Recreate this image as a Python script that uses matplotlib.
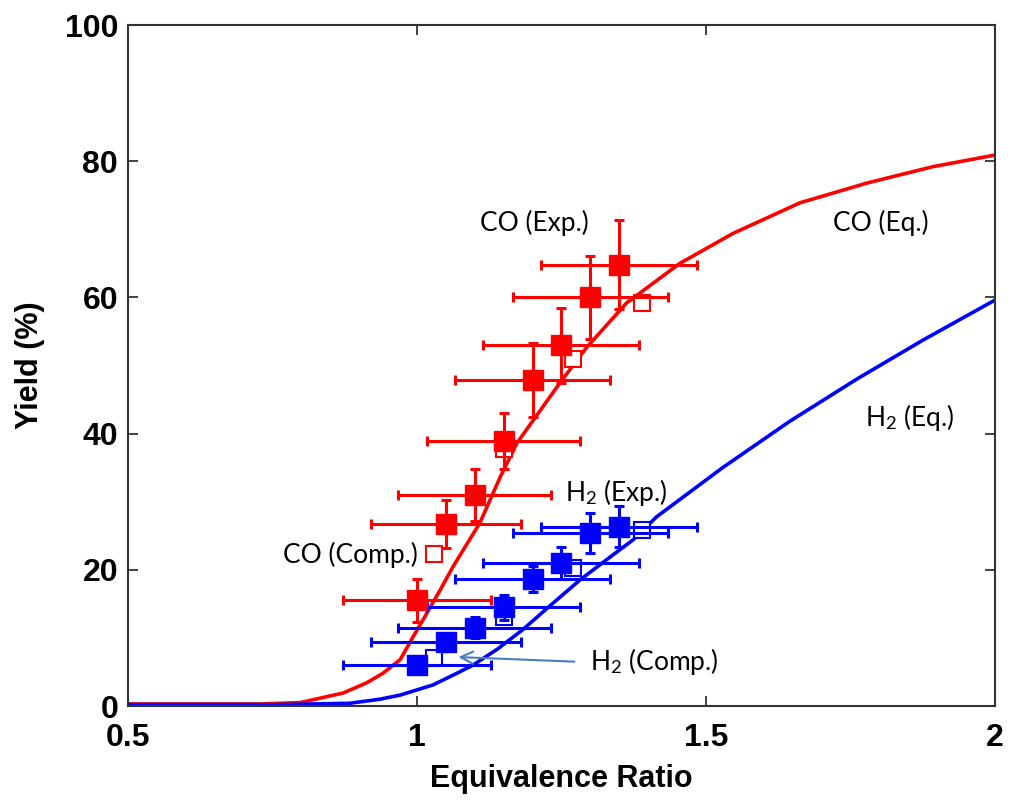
import matplotlib

matplotlib.use("Agg")
import matplotlib.pyplot as plt

plt.rcParams["mathtext.fontset"] = "custom"
plt.rcParams["mathtext.rm"] = "Lato"
plt.rcParams["mathtext.it"] = "Lato:italic"

RED = "#ff0000"
BLUE = "#0000ff"
ARROW = "#4a7ebb"

# equilibrium curves
co_eq_x = [0.5, 0.73, 0.798, 0.872, 0.913, 0.941, 0.971, 0.993, 1.017, 1.040, 1.062, 1.109,
           1.144, 1.173, 1.247, 1.294, 1.363, 1.455, 1.547, 1.663, 1.779, 1.893, 2.0]
co_eq_y = [0.3, 0.3, 0.5, 1.9, 3.4, 4.8, 6.8, 10.1, 13.6, 17.0, 20.4, 26.9,
           33.6, 38.6, 47.4, 52.7, 59.2, 65.0, 69.4, 73.9, 76.8, 79.2, 80.9]
h2_eq_x = [0.5, 0.76, 0.884, 0.936, 0.971, 1.028, 1.069, 1.097, 1.14, 1.183, 1.23,
           1.282, 1.33, 1.374, 1.415, 1.529, 1.645, 1.761, 1.875, 2.0]
h2_eq_y = [0.2, 0.2, 0.4, 1.0, 1.6, 3.1, 4.8, 6.0, 8.4, 11.2, 14.7,
           18.5, 21.6, 24.4, 27.8, 35.0, 41.8, 48.0, 53.7, 59.6]

# experiments
exp_x = [1.0, 1.05, 1.10, 1.15, 1.20, 1.25, 1.30, 1.35]
exp_xerr = [0.128, 0.13, 0.132, 0.133, 0.134, 0.135, 0.134, 0.135]
co_exp_y = [15.5, 26.7, 31.0, 38.9, 47.9, 53.0, 60.0, 64.8]
co_exp_err = [3.2, 3.5, 3.8, 4.1, 5.4, 5.5, 6.1, 6.5]
h2_exp_y = [6.0, 9.4, 11.5, 14.5, 18.6, 21.0, 25.4, 26.3]
h2_exp_err = [1.0, 1.3, 1.5, 1.8, 1.9, 2.3, 3.0, 3.0]

# computations
comp_x = [1.03, 1.15, 1.27, 1.39]
co_comp_y = [22.3, 37.8, 51.0, 59.2]
h2_comp_y = [7.0, 13.1, 20.3, 25.9]

fig = plt.figure(figsize=(10.1, 8.02), dpi=100)
ax = fig.add_axes([0.1267, 0.1197, 0.8583, 0.8491])

ax.plot(co_eq_x, co_eq_y, color=RED, lw=2.6, zorder=2)
ax.plot(h2_eq_x, h2_eq_y, color=BLUE, lw=2.6, zorder=2)

ax.plot(comp_x, co_comp_y, "s", ms=11, mfc="white", mec=RED, mew=1.5, zorder=3)
ax.plot(comp_x, h2_comp_y, "s", ms=11, mfc="white", mec=BLUE, mew=1.5, zorder=3)

for y, yerr, c in [(co_exp_y, co_exp_err, RED), (h2_exp_y, h2_exp_err, BLUE)]:
    ax.errorbar(exp_x, y, xerr=exp_xerr, yerr=yerr, fmt="s", ms=14, color=c,
                ecolor=c, elinewidth=2.2, capsize=3.5, capthick=2.2, zorder=4)

ax.set_xlim(0.5, 2)
ax.set_ylim(0, 100)
ax.set_xticks([0.5, 1, 1.5, 2])
ax.set_xticklabels(["0.5", "1", "1.5", "2"])
ax.set_yticks([0, 20, 40, 60, 80, 100])
ax.tick_params(direction="in", length=7, width=1.3, top=True, right=True,
               labelsize=23, colors="#333333", labelcolor="black")
ax.tick_params(axis="x", pad=12)
ax.tick_params(axis="y", pad=7)
for lab in ax.get_xticklabels() + ax.get_yticklabels():
    lab.set_family("Liberation Sans")
    lab.set_weight("bold")
for s in ax.spines.values():
    s.set_linewidth(1.5)
    s.set_color("#333333")

ax.set_xlabel("Equivalence Ratio", fontsize=22, family="Liberation Sans",
              weight="bold", labelpad=8)
ax.set_ylabel("Yield (%)", fontsize=22, family="Liberation Sans",
              weight="bold", labelpad=14)

tkw = dict(fontsize=19, family="Lato", va="center", ha="left")
ax.text(1.109, 70.9, "CO (Exp.)", **tkw)
ax.text(1.72, 70.9, "CO (Eq.)", **tkw)
ax.text(1.775, 42.4, "H$_2$ (Eq.)", **tkw)
ax.text(1.256, 31.4, "H$_2$ (Exp.)", **tkw)
ax.text(0.768, 22.2, "CO (Comp.)", **tkw)
ax.text(1.30, 6.5, "H$_2$ (Comp.)", **tkw)
ax.annotate("", xy=(1.067, 7.2), xytext=(1.277, 6.5),
            arrowprops=dict(arrowstyle="->", color=ARROW, lw=1.5, mutation_scale=22), zorder=5)

fig.savefig("out.png", dpi=100)
